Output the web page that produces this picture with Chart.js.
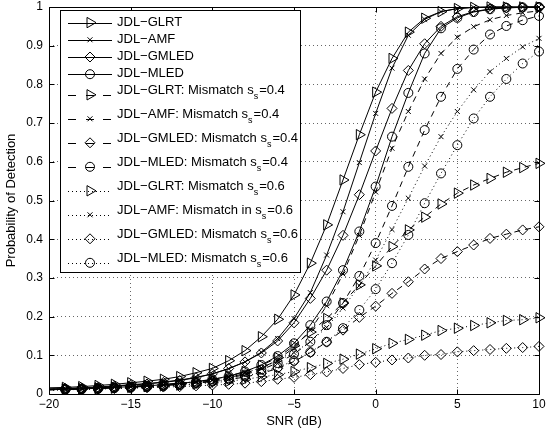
<!DOCTYPE html>
<html>
<head>
<meta charset="utf-8">
<script src="https://cdn.jsdelivr.net/npm/chart.js@4.4.1/dist/chart.umd.min.js"></script>
<style>
  html, body { margin: 0; padding: 0; background: #fff; }
</style>
</head>
<body>
<canvas id="myChart" width="546" height="433"></canvas>
<script>
var snr = [-20, -19, -18, -17, -16, -15, -14, -13, -12, -11, -10, -9, -8, -7, -6, -5, -4, -3, -2, -1, 0, 1, 2, 3, 4, 5, 6, 7, 8, 9, 10];

var glrt = [0.016, 0.017, 0.019, 0.022, 0.025, 0.029, 0.033, 0.038, 0.045, 0.055, 0.066,
            0.086, 0.112, 0.148, 0.193, 0.256, 0.338, 0.437, 0.553, 0.670, 0.780,
            0.867, 0.935, 0.971, 0.988, 0.996, 0.999, 1, 1, 1, 1];
var amf = [0.013, 0.014, 0.016, 0.018, 0.021, 0.024, 0.027, 0.031, 0.036, 0.043, 0.052,
           0.065, 0.083, 0.108, 0.143, 0.195, 0.262, 0.359, 0.471, 0.598, 0.725,
           0.842, 0.927, 0.968, 0.988, 0.996, 0.999, 1, 1, 1, 1];
var gmled = [0.013, 0.014, 0.015, 0.017, 0.020, 0.023, 0.026, 0.030, 0.035, 0.042, 0.052,
             0.066, 0.083, 0.106, 0.137, 0.184, 0.247, 0.320, 0.410, 0.515, 0.628,
             0.738, 0.836, 0.905, 0.950, 0.975, 0.988, 0.995, 0.998, 0.999, 1];
var mled = [0.011, 0.012, 0.013, 0.015, 0.017, 0.019, 0.021, 0.024, 0.027, 0.032, 0.038,
            0.046, 0.058, 0.075, 0.098, 0.131, 0.178, 0.239, 0.320, 0.420, 0.536,
            0.665, 0.778, 0.880, 0.945, 0.972, 0.987, 0.994, 0.998, 0.999, 1];

var glrt04 = [0.012, 0.013, 0.014, 0.016, 0.018, 0.020, 0.022, 0.025, 0.028, 0.032, 0.037,
              0.046, 0.058, 0.074, 0.094, 0.125, 0.160, 0.195, 0.235, 0.282, 0.331,
              0.381, 0.424, 0.457, 0.491, 0.519, 0.540, 0.557, 0.573, 0.585, 0.596];
var amf04 = [0.011, 0.012, 0.013, 0.015, 0.017, 0.019, 0.021, 0.024, 0.027, 0.031, 0.036,
             0.043, 0.053, 0.067, 0.088, 0.120, 0.165, 0.228, 0.310, 0.410, 0.522,
             0.635, 0.730, 0.814, 0.880, 0.922, 0.949, 0.967, 0.978, 0.985, 0.990];
var gmled04 = [0.011, 0.012, 0.013, 0.014, 0.016, 0.018, 0.020, 0.022, 0.025, 0.028, 0.032,
               0.037, 0.044, 0.053, 0.066, 0.084, 0.107, 0.134, 0.165, 0.198, 0.227,
               0.260, 0.290, 0.323, 0.350, 0.368, 0.385, 0.402, 0.413, 0.424, 0.432];
var mled04 = [0.011, 0.012, 0.013, 0.014, 0.016, 0.018, 0.020, 0.022, 0.025, 0.029, 0.034,
              0.041, 0.050, 0.063, 0.080, 0.103, 0.135, 0.178, 0.235, 0.305, 0.390,
              0.486, 0.587, 0.682, 0.768, 0.840, 0.890, 0.929, 0.951, 0.966, 0.977];

var glrt06 = [0.011, 0.012, 0.013, 0.014, 0.015, 0.017, 0.019, 0.021, 0.023, 0.026, 0.029,
              0.033, 0.038, 0.044, 0.050, 0.058, 0.068, 0.079, 0.090, 0.103, 0.117,
              0.131, 0.141, 0.152, 0.164, 0.170, 0.177, 0.184, 0.190, 0.192, 0.197];
var amf06 = [0.011, 0.012, 0.013, 0.014, 0.016, 0.018, 0.020, 0.022, 0.025, 0.028, 0.032,
             0.037, 0.045, 0.055, 0.068, 0.085, 0.107, 0.135, 0.172, 0.222, 0.280,
             0.346, 0.425, 0.506, 0.589, 0.665, 0.730, 0.786, 0.833, 0.867, 0.897, 0.919].slice(1);
var gmled06 = [0.010, 0.011, 0.012, 0.013, 0.014, 0.015, 0.016, 0.018, 0.019, 0.021, 0.023,
               0.025, 0.028, 0.032, 0.038, 0.043, 0.050, 0.057, 0.066, 0.076, 0.082,
               0.088, 0.093, 0.100, 0.102, 0.109, 0.112, 0.115, 0.118, 0.120, 0.123];
var mled06 = [0.010, 0.011, 0.012, 0.013, 0.015, 0.016, 0.018, 0.020, 0.023, 0.027, 0.032,
              0.038, 0.046, 0.056, 0.069, 0.086, 0.108, 0.135, 0.170, 0.217, 0.271,
              0.338, 0.411, 0.493, 0.570, 0.643, 0.712, 0.768, 0.814, 0.854, 0.885];

var legendLabels = [
  'JDL−GLRT',
  'JDL−AMF',
  'JDL−GMLED',
  'JDL−MLED',
  'JDL−GLRT: Mismatch s_s=0.4',
  'JDL−AMF: Mismatch s_s=0.4',
  'JDL−GMLED: Mismatch s_s=0.4',
  'JDL−MLED: Mismatch s_s=0.4',
  'JDL−GLRT: Mismatch s_s=0.6',
  'JDL−AMF: Mismatch in s_s=0.6',
  'JDL−GMLED: Mismatch s_s=0.6',
  'JDL−MLED: Mismatch s_s=0.6'
];
var xTicks = [-20, -15, -10, -5, 0, 5, 10];
var yTicks = [0, 0.1, 0.2, 0.3, 0.4, 0.5, 0.6, 0.7, 0.8, 0.9, 1];

var FONT = '"Liberation Sans", Arial, Helvetica, sans-serif';
var DASH = [6, 5];
var DOT = [1, 3];

// marker look per detector
var markers = {
  glrt:  { pointStyle: 'triangle', pointRadius: 6,   pointRotation: 90 },
  amf:   { pointStyle: 'crossRot', pointRadius: 3.5, pointRotation: 0 },
  gmled: { pointStyle: 'rectRot',  pointRadius: 5,   pointRotation: 0 },
  mled:  { pointStyle: 'circle',   pointRadius: 4.5, pointRotation: 0 }
};

function makeSet(label, values, kind, dash) {
  var m = markers[kind];
  return {
    label: label,
    data: snr.map(function(x, i) { return { x: x, y: values[i] }; }),
    borderColor: '#000',
    borderWidth: 1,
    borderDash: dash,
    backgroundColor: 'rgba(0,0,0,0)',
    pointStyle: m.pointStyle,
    // no marker on the axis edge point
    pointRadius: function(c) { return c.raw && c.raw.x === snr[0] ? 0 : m.pointRadius; },
    markerSize: m.pointRadius,
    pointRotation: m.pointRotation,
    pointBorderColor: '#000',
    pointBackgroundColor: 'rgba(0,0,0,0)',
    pointBorderWidth: 1,
    pointHoverRadius: m.pointRadius,
    tension: 0,
    fill: false,
    clip: false
  };
}

var datasets = [
  makeSet(legendLabels[0], glrt, 'glrt', []),
  makeSet(legendLabels[1], amf, 'amf', []),
  makeSet(legendLabels[2], gmled, 'gmled', []),
  makeSet(legendLabels[3], mled, 'mled', []),
  makeSet(legendLabels[4], glrt04, 'glrt', DASH),
  makeSet(legendLabels[5], amf04, 'amf', DASH),
  makeSet(legendLabels[6], gmled04, 'gmled', DASH),
  makeSet(legendLabels[7], mled04, 'mled', DASH),
  makeSet(legendLabels[8], glrt06, 'glrt', DOT),
  makeSet(legendLabels[9], amf06, 'amf', DOT),
  makeSet(legendLabels[10], gmled06, 'gmled', DOT),
  makeSet(legendLabels[11], mled06, 'mled', DOT)
];

// axes box with inward ticks, like matlab
var frame = {
  id: 'frame',
  afterDatasetsDraw: function(chart) {
    var a = chart.chartArea, ctx = chart.ctx;
    var xs = chart.scales.x, ys = chart.scales.y;
    var L = Math.round(a.left) + 0.5, R = Math.round(a.right) + 0.5;
    var T = Math.round(a.top) + 0.5, B = Math.round(a.bottom) + 0.5;
    ctx.save();
    ctx.strokeStyle = '#000';
    ctx.lineWidth = 1;
    ctx.setLineDash([]);
    ctx.beginPath();
    ctx.rect(L, T, R - L, B - T);
    xTicks.forEach(function(v) {
      var px = Math.round(xs.getPixelForValue(v)) + 0.5;
      ctx.moveTo(px, B); ctx.lineTo(px, B - 5);
      ctx.moveTo(px, T); ctx.lineTo(px, T + 5);
    });
    yTicks.forEach(function(v) {
      var py = Math.round(ys.getPixelForValue(v)) + 0.5;
      ctx.moveTo(L, py); ctx.lineTo(L + 5, py);
      ctx.moveTo(R, py); ctx.lineTo(R - 5, py);
    });
    ctx.stroke();
    ctx.restore();
  }
};

// legend box drawn over the plot, subscripts done by hand
var legendBox = {
  id: 'legendBox',
  afterDraw: function(chart) {
    var ctx = chart.ctx;
    var bx = 60, by = 10, bw = 240, bh = 262;
    ctx.save();
    ctx.fillStyle = '#fff';
    ctx.fillRect(bx, by, bw, bh);
    ctx.strokeStyle = '#000';
    ctx.lineWidth = 1;
    ctx.strokeRect(bx + 0.5, by + 0.5, bw, bh);

    var top = 14;
    chart.data.datasets.forEach(function(ds) {
      var parts = ds.label.split('_');
      var hasSub = parts.length > 1;
      var h = hasSub ? 24 : 17.2;
      var y = top + h / 2;
      top += h;
      var ly = Math.round(y) + 0.5;

      ctx.strokeStyle = '#000';
      ctx.lineWidth = 1;
      ctx.beginPath();
      if (ds.borderDash === DASH) {
        ctx.setLineDash([]);
        ctx.moveTo(68, ly); ctx.lineTo(76, ly);
        ctx.moveTo(86, ly); ctx.lineTo(94, ly);
        ctx.moveTo(103, ly); ctx.lineTo(111, ly);
      } else {
        ctx.setLineDash(ds.borderDash);
        ctx.moveTo(68, ly); ctx.lineTo(112, ly);
      }
      ctx.stroke();
      ctx.setLineDash([]);

      ctx.fillStyle = 'rgba(0,0,0,0)';
      Chart.helpers.drawPoint(ctx, {
        pointStyle: ds.pointStyle,
        rotation: ds.pointRotation,
        radius: ds.markerSize,
        borderWidth: 1
      }, 90, y);

      ctx.fillStyle = '#000';
      ctx.textBaseline = 'middle';
      ctx.textAlign = 'left';
      ctx.font = '13px ' + FONT;
      var ty = hasSub ? y - 4 : y - 0.5;
      var tx = 117;
      ctx.fillText(parts[0], tx, ty);
      if (hasSub) {
        tx += ctx.measureText(parts[0]).width;
        var sub = parts[1].charAt(0);
        var rest = parts[1].slice(1);
        ctx.font = '9px ' + FONT;
        ctx.fillText(sub, tx, ty + 6);
        tx += ctx.measureText(sub).width + 1;
        ctx.font = '13px ' + FONT;
        ctx.fillText(rest, tx, ty);
      }
    });
    ctx.restore();
  }
};

var ctx = document.getElementById('myChart').getContext('2d');
var myChart = new Chart(ctx, {
  type: 'line',
  data: { datasets: datasets },
  options: {
    responsive: false,
    devicePixelRatio: 1,
    animation: false,
    events: [],
    layout: { padding: { left: 0, right: 7, top: 7, bottom: 0 } },
    plugins: {
      legend: { display: false },
      tooltip: { enabled: false }
    },
    scales: {
      x: {
        type: 'linear',
        min: -20,
        max: 10,
        afterBuildTicks: function(s) { s.ticks = xTicks.map(function(v) { return { value: v }; }); },
        afterFit: function(s) { s.height = 39; },
        ticks: {
          color: '#000',
          // tall line height pushes the labels down without extra side padding
          font: { family: FONT, size: 12, lineHeight: 1.85 },
          padding: 0,
          maxRotation: 0,
          callback: function(v) { return v < 0 ? '−' + Math.abs(v) : String(v); }
        },
        grid: { color: '#666', lineWidth: 1, drawTicks: false },
        border: { display: false, dash: DOT },
        title: {
          display: true,
          text: 'SNR (dB)',
          color: '#000',
          font: { family: FONT, size: 13 },
          padding: { top: 0, bottom: 4 }
        }
      },
      y: {
        type: 'linear',
        min: 0,
        max: 1,
        afterBuildTicks: function(s) { s.ticks = yTicks.map(function(v) { return { value: v }; }); },
        afterFit: function(s) { s.width = 49; },
        ticks: {
          color: '#000',
          font: { family: FONT, size: 12, lineHeight: 0.1 },
          padding: 6,
          callback: function(v) { return String(Math.round(v * 10) / 10); }
        },
        grid: { color: '#666', lineWidth: 1, drawTicks: false },
        border: { display: false, dash: DOT },
        title: {
          display: true,
          text: 'Probability of Detection',
          color: '#000',
          font: { family: FONT, size: 13 },
          padding: { top: 4, bottom: 0 }
        }
      }
    }
  },
  plugins: [frame, legendBox]
});
</script>
</body>
</html>
